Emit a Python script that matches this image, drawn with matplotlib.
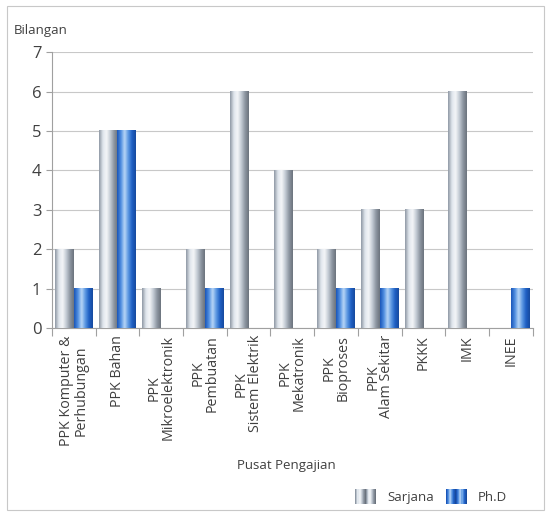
import numpy as np
import matplotlib
matplotlib.use("Agg")
import matplotlib.pyplot as plt
from matplotlib.patches import Rectangle
from matplotlib.colors import LinearSegmentedColormap
from matplotlib.legend_handler import HandlerBase

plt.rcParams['font.family'] = ['Open Sans', 'DejaVu Sans']

categories = ["PPK Komputer &\nPerhubungan", "PPK Bahan", "PPK\nMikroelektronik",
              "PPK\nPembuatan", "PPK\nSistem Elektrik", "PPK\nMekatronik",
              "PPK\nBioproses", "PPK\nAlam Sekitar", "PKKK", "IMK", "INEE"]
sarjana = [2, 5, 1, 2, 6, 4, 2, 3, 3, 6, 0]
phd = [1, 5, 0, 1, 0, 0, 1, 1, 0, 0, 1]

gray_cmap = LinearSegmentedColormap.from_list(
    "g", ["#8e98a4", "#dfe5ec", "#f4f6f8", "#c3cbd4", "#8d96a1", "#6b737d"])
blue_cmap = LinearSegmentedColormap.from_list(
    "b", ["#1a55b8", "#4f8ee0", "#b9d6f6", "#5b97e2", "#1e5fc4", "#174a9e"])
grad = np.linspace(0, 1, 64).reshape(1, -1)

fig = plt.figure(figsize=(5.51, 5.16), dpi=100)
ax = fig.add_axes([0.094, 0.364, 0.873, 0.535])

x = np.arange(len(categories))
w = 0.43


def gradient_bars(xs, vals, cmap):
    bars = ax.bar(xs, vals, w, color="none", edgecolor="none")
    for b in bars:
        if b.get_height() <= 0:
            continue
        x0 = b.get_x()
        ax.imshow(grad, cmap=cmap, aspect="auto", interpolation="bicubic",
                  extent=[x0, x0 + b.get_width(), 0, b.get_height()], zorder=3)


gradient_bars(x - w / 2, sarjana, gray_cmap)
gradient_bars(x + w / 2, phd, blue_cmap)

ax.set_xlim(-0.5, len(categories) - 0.5)
ax.set_ylim(0, 7)
ax.set_yticks(range(8))
ax.yaxis.grid(True, color="#c8c8c8", linewidth=0.8)
ax.set_axisbelow(True)
for s in ["top", "right"]:
    ax.spines[s].set_visible(False)
ax.spines["left"].set_color("#a0a0a0")
ax.spines["bottom"].set_color("#a0a0a0")

ax.set_xticks(np.arange(len(categories) + 1) - 0.5, minor=False)
ax.set_xticklabels([])
ax.tick_params(axis="x", length=6, color="#a0a0a0")
ax.set_xticks(x, minor=True)
ax.set_xticklabels(categories, minor=True, rotation=90, fontsize=10.3,
                   color="#404040", linespacing=0.92, va="top")
ax.tick_params(axis="x", which="minor", length=0, pad=5)
ax.tick_params(axis="y", labelsize=12, labelcolor="#404040", length=4,
               color="#a0a0a0")

fig.text(0.025, 0.94, "Bilangan", fontsize=9.5, color="#404040", va="center")
fig.text(0.52, 0.098, "Pusat Pengajian", fontsize=9.5, color="#404040",
         ha="center", va="center")


class GradHandler(HandlerBase):
    def __init__(self, cmap):
        super().__init__()
        self.cmap = cmap

    def create_artists(self, legend, orig, xd, yd, width, height, fontsize, trans):
        arts = []
        n = 20
        for k in range(n):
            c = self.cmap((k % 10) / 9)
            arts.append(Rectangle((xd + width * k / n, yd - 2), width / n, height + 4,
                                  facecolor=c, edgecolor="none", transform=trans))
        return arts


h1 = Rectangle((0, 0), 1, 1)
h2 = Rectangle((0, 0), 1, 1)
fig.legend([h1, h2], ["Sarjana", "Ph.D"], loc="center", bbox_to_anchor=(0.782, 0.036),
           ncol=2, frameon=False, fontsize=9.5, handlelength=1.6, columnspacing=0.9,
           handler_map={h1: GradHandler(gray_cmap), h2: GradHandler(blue_cmap)},
           labelcolor="#404040")

fig.patches.append(Rectangle((0.012, 0.012), 0.976, 0.976, transform=fig.transFigure,
                             fill=False, edgecolor="#c8c8c8", linewidth=0.8))

fig.savefig("out.png", dpi=100)
